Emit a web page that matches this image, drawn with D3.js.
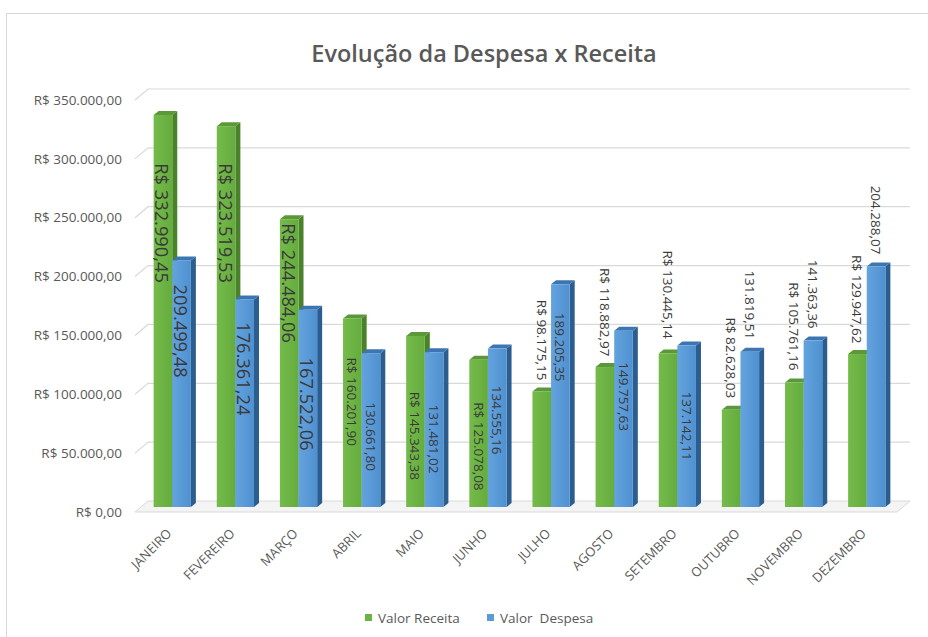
<!DOCTYPE html>
<html>
<head>
<meta charset="utf-8">
<script src="https://cdn.jsdelivr.net/npm/d3@7"></script>
<style>
  html, body { margin: 0; padding: 0; background: #ffffff; }
  svg { display: block; font-family: "Open Sans", "DejaVu Sans", sans-serif; }
</style>
</head>
<body>
<svg id="chart" width="928" height="637"></svg>
<script>
// ---------- DATA ----------
const months = ["JANEIRO", "FEVEREIRO", "MARÇO", "ABRIL", "MAIO", "JUNHO",
                "JULHO", "AGOSTO", "SETEMBRO", "OUTUBRO", "NOVEMBRO", "DEZEMBRO"];
const receita = [332990.45, 323519.53, 244484.06, 160201.90, 145343.38, 125078.08,
                 98175.15, 118882.97, 130445.14, 82628.03, 105761.16, 129947.62];
const despesa = [209499.48, 176361.24, 167522.06, 130661.80, 131481.02, 134555.16,
                 189205.35, 149757.63, 137142.11, 131819.51, 141363.36, 204288.07];
const seriesNames = ["Valor Receita", "Valor  Despesa"];
const yTickValues = [0, 50000, 100000, 150000, 200000, 250000, 300000, 350000];
const chartTitle = "Evolução da Despesa x Receita";
// value (R$) at which each data label starts (as placed in the original chart)
const receitaLabelAt = [292000, 292000, 241000, 127000, 98000, 89000,
                        176000, 203000, 218000, 161000, 191000, 214000];
const despesaLabelAt = [189000, 157000, 127000, 89000, 87000, 103000,
                        165000, 123000, 98000, 201000, 210000, 273000];

// ---------- SETUP ----------
const svg = d3.select("#chart");
const locale = d3.formatLocale({decimal: ",", thousands: ".", grouping: [3], currency: ["R$ ", ""]});
const fmt = locale.format(",.2f");

const y = d3.scaleLinear().domain([0, 350000]).range([507, 95]);
const x = d3.scaleBand().domain(months).range([141, 898]).paddingInner(0.41).paddingOuter(0.2);
const xs = d3.scaleBand().domain(seriesNames).range([0, x.bandwidth()]);
const depthX = 5, depthY = 4;

const defs = svg.append("defs");
function grad(id, c1, c2) {
  const g = defs.append("linearGradient").attr("id", id).attr("x1", 0).attr("y1", 0).attr("x2", 1).attr("y2", 0);
  g.append("stop").attr("offset", "0%").attr("stop-color", c1);
  g.append("stop").attr("offset", "100%").attr("stop-color", c2);
}
grad("gGreen", "#74bb4b", "#65ac3e");
grad("gBlue", "#63a3de", "#4f90d0");
const colors = {
  "Valor Receita": {front: "url(#gGreen)", side: "#4a8229", top: "#5a9838", legend: "#6ab344"},
  "Valor  Despesa": {front: "url(#gBlue)", side: "#2c5d8f", top: "#3b76b3", legend: "#5b9bd5"}
};

// outer frame
svg.append("rect").attr("x", 6.5).attr("y", 13.5).attr("width", 940).attr("height", 640)
  .attr("fill", "#ffffff").attr("stroke", "#d9d9d9");

// title
svg.append("text").attr("x", 484).attr("y", 62).attr("text-anchor", "middle")
  .attr("font-size", 23.5).attr("font-weight", 600).attr("fill", "#595959").text(chartTitle);

// floor
const x0 = 135, x1 = 897;
svg.append("path")
  .attr("d", `M${x0},${y(0) + 5} L${x0 + 13},${y(0) - 6} L${x1 + 13},${y(0) - 6} L${x1},${y(0) + 5} Z`)
  .attr("fill", "#f4f4f4").attr("stroke", "#d9d9d9");

// gridlines + y labels
const grid = svg.append("g");
yTickValues.forEach(v => {
  const yy = y(v);
  if (v > 0) {
    grid.append("path")
      .attr("d", `M${x0},${yy + 5} L${x0 + 13},${yy - 6} L${910},${yy - 6}`)
      .attr("fill", "none").attr("stroke", "#d9d9d9").attr("stroke-width", 1.2);
  }
  grid.append("text").attr("x", 122).attr("y", yy + 5).attr("dy", "0.35em")
    .attr("text-anchor", "end").attr("font-size", 13.5).attr("fill", "#595959")
    .text("R$ " + fmt(v));
});

// bars
const data = months.map((m, i) => ({m, i, vals: [receita[i], despesa[i]]}));
const barsG = svg.append("g");
data.forEach(d => {
  seriesNames.forEach((s, k) => {
    const v = d.vals[k];
    const bx = x(d.m) + xs(s), bw = xs.bandwidth();
    const top = y(v), bot = y(0);
    const c = colors[s];
    const g = barsG.append("g");
    g.append("path")
      .attr("d", `M${bx + bw},${top} L${bx + bw + depthX},${top - depthY} L${bx + bw + depthX},${bot - depthY} L${bx + bw},${bot} Z`)
      .attr("fill", c.side);
    g.append("path")
      .attr("d", `M${bx},${top} L${bx + depthX},${top - depthY} L${bx + bw + depthX},${top - depthY} L${bx + bw},${top} Z`)
      .attr("fill", c.top);
    g.append("rect").attr("x", bx).attr("y", top).attr("width", bw).attr("height", bot - top)
      .attr("fill", c.front);
  });
});

// data labels
const labelsG = svg.append("g");
data.forEach(d => {
  seriesNames.forEach((s, k) => {
    const v = d.vals[k];
    const at = (k === 0 ? receitaLabelAt : despesaLabelAt)[d.i];
    const bx = x(d.m) + xs(s) + xs.bandwidth() / 2;
    const big = d.i < 3;
    const txt = (k === 0 ? "R$ " : "") + fmt(v);
    labelsG.append("text")
      .attr("transform", `translate(${bx},${y(at)}) rotate(90)`)
      .attr("dominant-baseline", "central")
      .attr("font-size", big ? 18.3 : 13.5)
      .attr("fill", "#3a3a3a")
      .text(txt);
  });
});

// x axis labels
const xl = svg.append("g");
months.forEach(m => {
  const cx = x(m) + x.bandwidth() / 2;
  xl.append("text")
    .attr("transform", `translate(${cx - 3},${531}) rotate(-45)`)
    .attr("text-anchor", "end").attr("dy", "0.35em")
    .attr("font-size", 13).attr("fill", "#595959").text(m);
});

// legend
const lg = svg.append("g");
const legendPos = [365, 487];
seriesNames.forEach((s, k) => {
  lg.append("rect").attr("x", legendPos[k]).attr("y", 614).attr("width", 7).attr("height", 7)
    .attr("fill", colors[s].legend);
  lg.append("text").attr("x", legendPos[k] + 13).attr("y", 618).attr("dy", "0.35em")
    .attr("font-size", 13.5).attr("fill", "#595959").style("white-space", "pre").text(s);
});
</script>
</body>
</html>
